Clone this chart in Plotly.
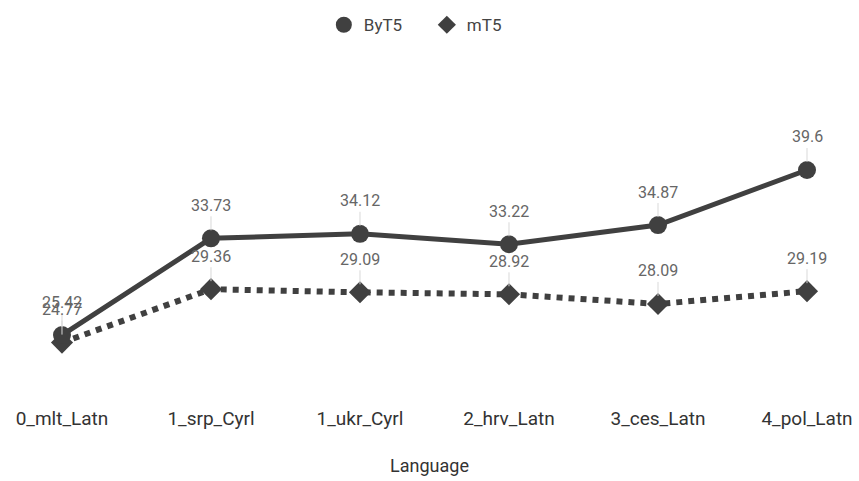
import plotly.graph_objects as go

languages = ["0_mlt_Latn", "1_srp_Cyrl", "1_ukr_Cyrl", "2_hrv_Latn", "3_ces_Latn", "4_pol_Latn"]
byt5 = [25.42, 33.73, 34.12, 33.22, 34.87, 39.6]
mt5 = [24.77, 29.36, 29.09, 28.92, 28.09, 29.19]

LINE = "#404040"
TXT = "#666666"
FONT = "Roboto, Arial, sans-serif"

xi = list(range(len(languages)))

fig = go.Figure()
fig.add_trace(go.Scatter(x=xi, y=mt5, mode="lines+markers", name="mT5", showlegend=False,
                         line=dict(color=LINE, width=6, dash="dot"),
                         marker=dict(symbol="diamond", size=17, color=LINE)))
fig.add_trace(go.Scatter(x=xi, y=byt5, mode="lines+markers", name="ByT5", showlegend=False,
                         line=dict(color=LINE, width=5),
                         marker=dict(symbol="circle", size=18, color=LINE)))
# legend-only traces (marker only)
fig.add_trace(go.Scatter(x=[None], y=[None], mode="markers", name="ByT5",
                         marker=dict(symbol="circle", size=16, color=LINE)))
fig.add_trace(go.Scatter(x=[None], y=[None], mode="markers", name="mT5",
                         marker=dict(symbol="diamond", size=14, color=LINE)))

annots = []
for series in (byt5, mt5):
    for i, v in enumerate(series):
        annots.append(dict(x=i, y=v, xref="x", yref="y", text=f"{v:g}",
                           showarrow=True, arrowhead=0, arrowwidth=1, arrowcolor="#d9d9d9",
                           ax=0, ay=-33, standoff=8,
                           font=dict(family=FONT, size=16, color=TXT)))

fig.update_layout(
    width=859, height=481,
    margin=dict(l=0, r=0, t=60, b=78),
    paper_bgcolor="white", plot_bgcolor="white",
    font=dict(family=FONT, color=TXT),
    annotations=annots,
    legend=dict(orientation="h", x=0.377, xanchor="left", y=0.985, yanchor="top",
                yref="container", font=dict(family=FONT, size=17, color="#444444"),
                itemwidth=30, entrywidth=58, entrywidthmode="pixels"),
    xaxis=dict(range=[-0.416, 5.349], tickmode="array", tickvals=xi, ticktext=languages,
               showgrid=False, zeroline=False, showline=False, ticks="",
               ticklabelstandoff=2,
               tickfont=dict(family=FONT, size=19, color="#333333"),
               title=dict(text="Language", standoff=30,
                          font=dict(family=FONT, size=18, color="#333333"))),
    yaxis=dict(range=[19.58, 49.05], showgrid=False, zeroline=False, showline=False,
               showticklabels=False, ticks=""),
)

fig.write_html("out.html")
